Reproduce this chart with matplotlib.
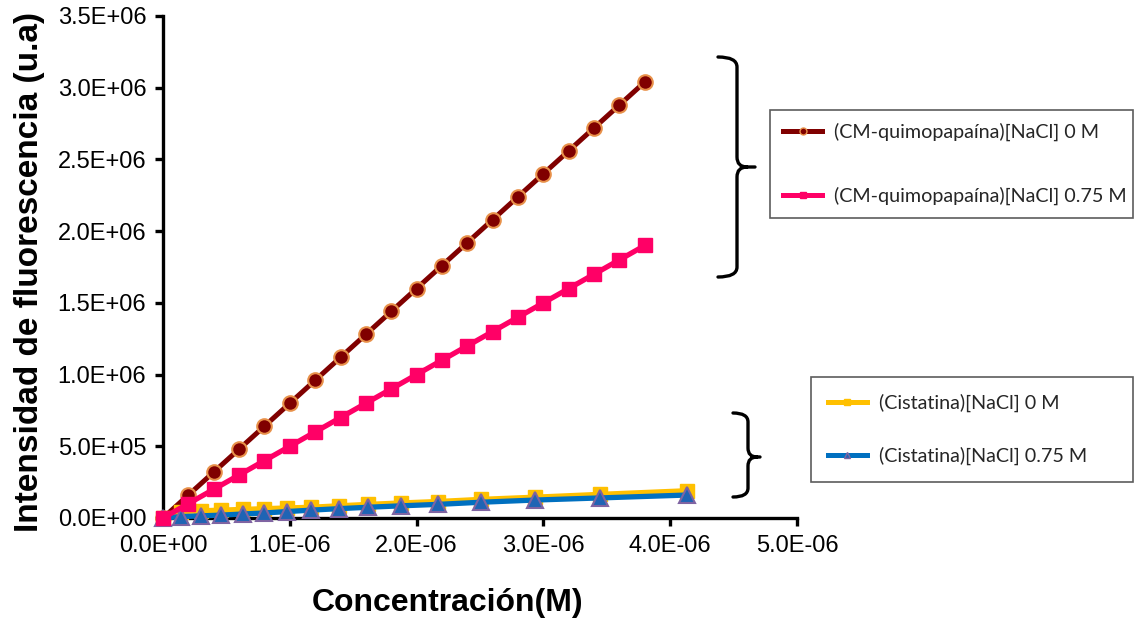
import numpy as np
import matplotlib
matplotlib.use("Agg")
import matplotlib.pyplot as plt
from matplotlib.lines import Line2D
from matplotlib.path import Path
from matplotlib.patches import PathPatch
from matplotlib.ticker import FuncFormatter, MultipleLocator

# datos
conc_cm = np.array([0.0, 0.2, 0.4, 0.6, 0.8, 1.0, 1.2, 1.4, 1.6, 1.8,
                    2.0, 2.2, 2.4, 2.6, 2.8, 3.0, 3.2, 3.4, 3.6, 3.8]) * 1e-6
cm_0M = np.array([0.0, 0.16, 0.32, 0.48, 0.64, 0.80, 0.96, 1.12, 1.28, 1.44,
                  1.60, 1.76, 1.92, 2.08, 2.24, 2.40, 2.56, 2.72, 2.88, 3.04]) * 1e6
cm_075M = np.array([0.0, 0.10, 0.20, 0.30, 0.40, 0.50, 0.60, 0.70, 0.80, 0.90,
                    1.00, 1.10, 1.20, 1.30, 1.40, 1.50, 1.60, 1.70, 1.80, 1.90]) * 1e6

conc_cist = np.array([0.0, 0.145, 0.30, 0.46, 0.63, 0.80, 0.98, 1.17, 1.385, 1.62,
                      1.88, 2.17, 2.51, 2.93, 3.45, 4.13]) * 1e-6
cist_0M = np.array([0.0, 0.045, 0.05, 0.055, 0.06, 0.065, 0.07, 0.075, 0.085, 0.095,
                    0.105, 0.115, 0.13, 0.145, 0.165, 0.19]) * 1e6
cist_075M = np.array([0.0, 0.01, 0.015, 0.02, 0.028, 0.035, 0.045, 0.055, 0.065, 0.075,
                      0.085, 0.095, 0.11, 0.125, 0.14, 0.16]) * 1e6

labels_cm = ["(CM-quimopapaína)[NaCl] 0 M", "(CM-quimopapaína)[NaCl] 0.75 M"]
labels_cist = ["(Cistatina)[NaCl] 0 M", "(Cistatina)[NaCl] 0.75 M"]

W, H = 1136, 623
fig = plt.figure(figsize=(W / 100, H / 100), dpi=100)
ax = fig.add_axes([163 / W, 1 - 518 / H, (797 - 163) / W, (518 - 16) / H])

c_maroon, c_pink, c_yellow, c_blue = "#800000", "#FF0066", "#FFC000", "#0070C0"

ax.plot(conc_cm, cm_0M, color=c_maroon, lw=3.6, marker="o", ms=10.5,
        mfc=c_maroon, mec="#E8914A", mew=1.5, clip_on=False, zorder=3)
ax.plot(conc_cist, cist_0M, color=c_yellow, lw=3.8, marker="s", ms=10,
        mfc=c_yellow, mec=c_yellow, clip_on=False, zorder=4)
ax.plot(conc_cist, cist_075M, color=c_blue, lw=3.8, marker="^", ms=11,
        mfc="#1F64B4", mec="#7F64A2", mew=1.5, clip_on=False, zorder=5)
ax.plot(conc_cm, cm_075M, color=c_pink, lw=3.8, marker="s", ms=10,
        mfc=c_pink, mec=c_pink, clip_on=False, zorder=6)

ax.set_xlim(0, 5e-6)
ax.set_ylim(0, 3.5e6)
ax.xaxis.set_major_locator(MultipleLocator(1e-6))
ax.yaxis.set_major_locator(MultipleLocator(0.5e6))
fmt = FuncFormatter(lambda v, p: "%.1E" % v)
ax.xaxis.set_major_formatter(fmt)
ax.yaxis.set_major_formatter(fmt)

for s in ["top", "right"]:
    ax.spines[s].set_visible(False)
for s in ["left", "bottom"]:
    ax.spines[s].set_linewidth(2.4)
ax.tick_params(axis="both", direction="out", length=6, width=2.4,
               labelsize=17, pad=6)
for lab in ax.get_xticklabels() + ax.get_yticklabels():
    lab.set_family("Liberation Sans")

ax.set_xlabel("Concentración(M)", fontsize=23, fontweight="bold",
              family="Liberation Sans", va="center")
ax.xaxis.set_label_coords((448 - 163) / 634, (518 - 603) / 502)
ax.set_ylabel("Intensidad de fluorescencia (u.a)", fontsize=24,
              fontweight="bold", family="Liberation Sans", va="center")
ax.yaxis.set_label_coords((30 - 163) / 634, (518 - 272) / 502)

# leyendas
h_cm = [Line2D([], [], color=c_maroon, lw=3.6, marker="o", ms=5,
               mfc=c_maroon, mec="#E8914A"),
        Line2D([], [], color=c_pink, lw=3.6, marker="s", ms=4, mfc=c_pink, mec=c_pink)]
h_cist = [Line2D([], [], color=c_yellow, lw=3.6, marker="s", ms=4,
                 mfc=c_yellow, mec=c_yellow),
          Line2D([], [], color=c_blue, lw=3.6, marker="^", ms=5,
                 mfc="#1F64B4", mec="#7F64A2")]

leg1 = ax.legend(h_cm, labels_cm, loc="upper left", mode="expand",
                 bbox_to_anchor=(770 / W, 1 - 230 / H, (1133 - 770) / W, 120 / H),
                 bbox_transform=fig.transFigure, borderaxespad=0,
                 prop={"family": "Lato", "size": 14.2}, frameon=True, fancybox=False,
                 edgecolor="#333333", borderpad=0.65, labelspacing=2.3,
                 handlelength=2.0, handletextpad=0.6, numpoints=1)
leg1.get_frame().set_linewidth(1.2)
for t in leg1.get_texts():
    t.set_color("#262626")
ax.add_artist(leg1)

leg2 = ax.legend(h_cist, labels_cist, loc="upper left", mode="expand",
                 bbox_to_anchor=(811 / W, 1 - 496 / H, (1133 - 811) / W, 119 / H),
                 bbox_transform=fig.transFigure, borderaxespad=0,
                 prop={"family": "Lato", "size": 14.2}, frameon=True, fancybox=False,
                 edgecolor="#333333", borderpad=0.85, labelspacing=1.75,
                 handlelength=2.0, handletextpad=0.6, numpoints=1)
leg2.get_frame().set_linewidth(1.2)
for t in leg2.get_texts():
    t.set_color("#262626")


# llaves
def llave(xb, xs, xt, yt, ym, yb, r):
    pts = [(xb, yt), (xs, yt), (xs, yt + r), (xs, ym - r), (xs, ym), (xs + r, ym), (xt, ym),
           (xs + r, ym), (xs, ym), (xs, ym + r), (xs, yb - r), (xs, yb), (xb, yb)]
    codes = [Path.MOVETO, Path.CURVE3, Path.CURVE3, Path.LINETO, Path.CURVE3, Path.CURVE3,
             Path.LINETO, Path.MOVETO, Path.CURVE3, Path.CURVE3, Path.LINETO,
             Path.CURVE3, Path.CURVE3]
    pts = [(x / W, 1 - y / H) for x, y in pts]
    fig.patches.append(PathPatch(Path(pts, codes), fill=False, lw=2.4, ec="black",
                                 transform=fig.transFigure, capstyle="round"))


llave(718, 737, 755, 57, 167, 277, 10)
llave(733, 748, 760, 413, 457, 497, 9)

fig.savefig("out.png", dpi=100)
